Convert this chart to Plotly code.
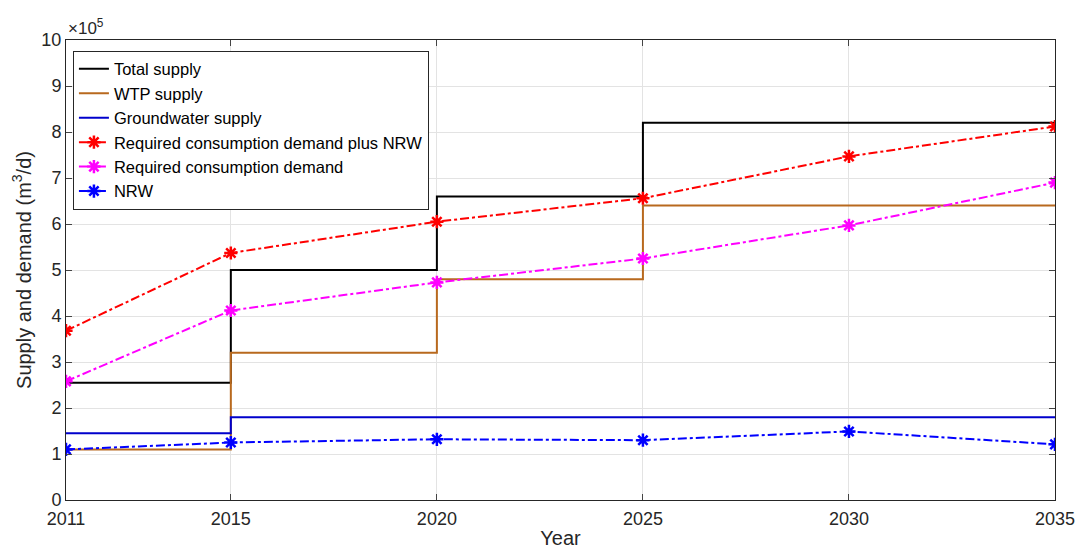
import plotly.graph_objects as go

# Data (values in units of 1e5 m3/d)
step_years = [2011, 2015, 2020, 2025, 2035]
total_supply = [2.55, 5.0, 6.6, 8.2, 8.2]
wtp_supply = [1.1, 3.2, 4.8, 6.4, 6.4]
groundwater_supply = [1.45, 1.8, 1.8, 1.8, 1.8]

demand_years = [2011, 2015, 2020, 2025, 2030, 2035]
demand_plus_nrw = [3.68, 5.37, 6.05, 6.56, 7.47, 8.12]
demand = [2.58, 4.12, 4.73, 5.25, 5.97, 6.90]
nrw = [1.10, 1.25, 1.32, 1.30, 1.49, 1.21]

x_ticks = [2011, 2015, 2020, 2025, 2030, 2035]
y_ticks = list(range(0, 11))

font_family = "Liberation Sans, Arial, sans-serif"
axis_color = "#262626"

fig = go.Figure()

fig.add_trace(go.Scatter(x=step_years, y=total_supply, mode="lines", line_shape="hv",
                         line=dict(color="black", width=2), name="Total supply"))
fig.add_trace(go.Scatter(x=step_years, y=wtp_supply, mode="lines", line_shape="hv",
                         line=dict(color="#b8691e", width=2), name="WTP supply"))
fig.add_trace(go.Scatter(x=step_years, y=groundwater_supply, mode="lines", line_shape="hv",
                         line=dict(color="#0000cc", width=2), name="Groundwater supply"))

def demand_trace(y, color, name):
    return go.Scatter(x=demand_years, y=y, mode="lines+markers",
                      line=dict(color=color, width=2, dash="dashdot"),
                      marker=dict(symbol="asterisk-open", size=11,
                                  line=dict(color=color, width=2.5)),
                      name=name)

fig.add_trace(demand_trace(demand_plus_nrw, "#ff0000", "Required consumption demand plus NRW"))
fig.add_trace(demand_trace(demand, "#ff00ff", "Required consumption demand"))
fig.add_trace(demand_trace(nrw, "#0000ff", "NRW"))

fig.update_layout(
    width=1076, height=549,
    margin=dict(l=66, r=21, t=40, b=49),
    plot_bgcolor="white", paper_bgcolor="white",
    font=dict(family=font_family, size=18, color=axis_color),
    showlegend=True,
    legend=dict(x=0.007, y=0.977, xanchor="left", yanchor="top",
                bordercolor="#262626", borderwidth=1, bgcolor="white",
                font=dict(size=16.5, color="black"), tracegroupgap=0,
                itemwidth=30),
    xaxis=dict(range=[2011, 2035], tickvals=x_ticks, ticks="inside", ticklen=6,
               showline=True, linecolor=axis_color, linewidth=1, mirror="ticks",
               showgrid=True, gridcolor="#e3e3e3", zeroline=False, automargin=False,
               ticklabelstandoff=2,
               title=dict(text="Year", standoff=6, font=dict(size=20)),
               tickfont=dict(size=18)),
    yaxis=dict(range=[0, 10], tickvals=y_ticks, ticks="inside", ticklen=6,
               showline=True, linecolor=axis_color, linewidth=1, mirror="ticks",
               showgrid=True, gridcolor="#e3e3e3", zeroline=False, automargin=False,
               title=dict(text="Supply and demand (m<sup>3</sup>/d)", standoff=4, font=dict(size=20)),
               tickfont=dict(size=18)),
    annotations=[dict(text="×10<sup>5</sup>", xref="paper", yref="paper",
                      x=0.0, y=1.0, xanchor="left", yanchor="bottom",
                      showarrow=False, font=dict(size=17, color=axis_color))],
)

fig.write_html("out.html")
